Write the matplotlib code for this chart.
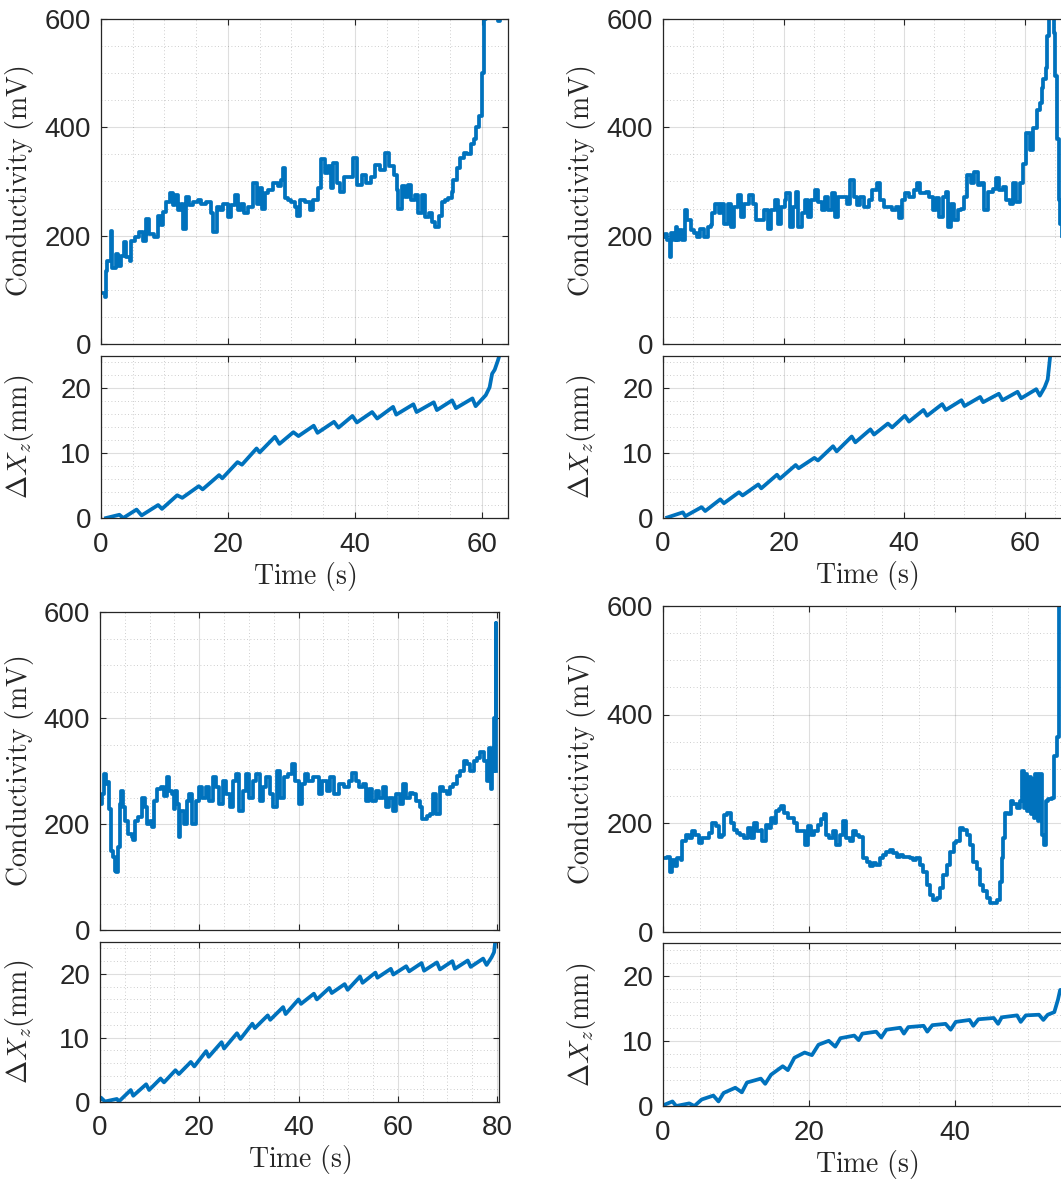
import matplotlib
matplotlib.use('Agg')
import matplotlib.pyplot as plt
from matplotlib.ticker import MultipleLocator

plt.rcParams['font.family'] = ['Liberation Sans', 'DejaVu Sans']
plt.rcParams['mathtext.fontset'] = 'cm'

# ---- panel (a): conductivity and displacement ----
t_cond_a = [0, 0.6, 0.7, 0.8, 1.0, 1.6, 1.8, 2.4, 2.7, 3.2,
            3.7, 4.0, 4.5, 4.7, 5.3, 6.0, 6.6, 7.1, 7.6, 8.4,
            8.9, 9.5, 9.7, 10.3, 10.8, 11.3, 11.6, 12.1, 12.6, 12.9,
            13.4, 13.9, 14.5, 15.3, 15.8, 16.6, 17.4, 17.6, 18.2, 18.7,
            19.2, 20.0, 20.5, 21.1, 21.6, 22.1, 22.6, 23.2, 23.9, 24.5,
            25.0, 25.3, 25.8, 26.3, 27.1, 27.9, 28.4, 28.7, 29.0, 29.5,
            30.0, 30.5, 30.8, 31.3, 32.1, 32.9, 33.4, 34.2, 34.7, 35.3,
            35.8, 36.3, 36.6, 37.1, 37.6, 38.2, 38.9, 39.7, 40.3, 41.1,
            41.8, 42.6, 43.2, 43.9, 44.7, 45.3, 46.1, 46.6, 46.8, 47.4,
            47.9, 48.4, 48.9, 49.5, 50.0, 50.5, 51.1, 51.6, 52.1, 52.6,
            53.2, 53.7, 54.2, 54.7, 55.3, 55.5, 56.1, 56.6, 57.1, 57.6,
            58.2, 58.7, 59.0, 59.5, 60.0, 60.3, 60.6, 62.2, 62.6, 62.9]
cond_a = [94, 94, 87, 134, 153, 209, 140, 166, 144, 163,
          188, 160, 153, 191, 197, 206, 191, 231, 203, 197,
          237, 219, 244, 262, 278, 256, 275, 247, 259, 212,
          272, 256, 262, 266, 259, 262, 241, 206, 253, 247,
          259, 234, 256, 275, 247, 259, 241, 253, 297, 259,
          288, 250, 278, 284, 297, 291, 303, 325, 269, 266,
          262, 253, 237, 266, 262, 247, 266, 288, 341, 316,
          328, 288, 334, 297, 281, 309, 309, 344, 294, 312,
          297, 309, 331, 322, 353, 328, 312, 284, 250, 291,
          272, 294, 266, 275, 241, 275, 234, 241, 225, 216,
          237, 262, 266, 269, 281, 303, 325, 344, 353, 350,
          369, 378, 400, 420, 500, 600, 700, 650, 597, 612]
t_dx_a = [0.8, 2.9, 3.5, 5.6, 6.4, 9.0, 9.6, 12.0, 12.8, 15.4,
          16.0, 18.6, 19.1, 21.5, 22.2, 24.5, 25.0, 27.4, 28.1, 30.3,
          31.1, 33.5, 34.1, 36.7, 37.4, 39.6, 40.3, 42.7, 43.5, 46.0,
          46.5, 49.2, 49.7, 52.4, 52.9, 55.3, 55.9, 58.5, 59.0, 60.6,
          61.2, 61.6, 62.0, 62.5, 62.9]
dx_a = [0, 0.5, 0, 1.3, 0.4, 2.0, 1.4, 3.5, 3.1, 4.9,
        4.4, 6.6, 6.1, 8.6, 8.2, 10.7, 10.1, 12.5, 11.4, 13.2,
        12.6, 14.2, 13.1, 14.8, 13.9, 15.7, 14.7, 16.3, 15.3, 17.1,
        15.9, 17.5, 16.3, 17.8, 16.6, 18.1, 16.9, 18.4, 17.2, 18.9,
        20.1, 22.2, 22.8, 24.2, 25.5]

# ---- panel (b) ----
t_cond_b = [0, 0.4, 0.7, 1.1, 1.3, 1.8, 2.1, 2.3, 2.6, 3.2,
            3.7, 4.0, 4.6, 5.1, 5.7, 6.2, 6.8, 7.4, 7.9, 8.2,
            8.7, 9.3, 9.6, 10.1, 10.7, 11.3, 11.8, 12.4, 12.9, 13.5,
            14.3, 14.9, 15.4, 16.3, 16.8, 17.4, 17.9, 18.5, 19.1, 19.6,
            20.2, 20.4, 21.0, 21.6, 22.1, 22.4, 23.0, 23.5, 24.1, 24.6,
            25.2, 25.7, 26.3, 26.9, 27.4, 28.0, 28.5, 29.1, 29.9, 30.5,
            31.0, 31.6, 32.1, 32.7, 33.3, 34.1, 34.7, 35.5, 36.0, 36.6,
            37.4, 38.0, 38.6, 39.1, 39.7, 40.2, 40.8, 41.6, 42.2, 42.7,
            43.6, 44.1, 44.7, 45.2, 45.8, 46.4, 46.9, 47.2, 47.7, 48.3,
            48.9, 49.4, 50.0, 50.5, 51.1, 51.6, 52.2, 52.8, 53.3, 53.9,
            54.7, 55.3, 55.8, 56.4, 56.9, 57.5, 58.1, 58.6, 59.2, 59.7,
            60.2, 60.8, 61.4, 62.0, 62.5, 62.8, 63.1, 63.5, 63.7, 64.1,
            64.5, 64.8, 65.0, 65.3, 65.6, 65.9, 66.1, 66.4]
cond_b = [198, 203, 192, 161, 204, 192, 216, 192, 210, 192,
          247, 229, 210, 204, 198, 213, 198, 216, 219, 241,
          259, 241, 259, 222, 259, 216, 253, 275, 235, 259,
          275, 259, 229, 229, 247, 213, 247, 266, 222, 253,
          266, 278, 216, 253, 281, 216, 241, 266, 235, 266,
          284, 263, 247, 272, 247, 278, 235, 272, 272, 259,
          303, 272, 256, 272, 253, 266, 284, 297, 266, 253,
          253, 247, 253, 232, 266, 278, 272, 284, 297, 278,
          281, 272, 247, 269, 235, 272, 281, 216, 259, 229,
          247, 250, 272, 312, 297, 318, 294, 297, 247, 281,
          287, 306, 284, 290, 266, 259, 297, 263, 297, 333,
          389, 359, 398, 432, 445, 472, 490, 509, 568, 620,
          640, 574, 494, 379, 266, 222, 200, 179]
t_dx_b = [0.7, 3.3, 3.7, 6.4, 7.0, 9.5, 10.1, 12.6, 13.2, 15.8,
          16.3, 18.9, 19.4, 22.0, 22.5, 25.1, 25.7, 28.2, 28.8, 31.3,
          31.9, 34.4, 35.0, 37.3, 38.0, 40.1, 40.8, 43.2, 43.8, 46.3,
          46.9, 49.5, 50.0, 52.6, 53.1, 55.7, 56.3, 58.8, 59.4, 61.9,
          62.5, 63.3, 63.8, 64.2, 64.4]
dx_b = [0, 0.8, 0.2, 1.6, 1.0, 2.8, 2.2, 3.9, 3.4, 5.1,
        4.5, 6.6, 6.0, 8.1, 7.6, 9.2, 8.8, 11.0, 10.2, 12.5,
        11.6, 13.6, 12.8, 14.5, 13.9, 15.7, 14.8, 16.6, 15.7, 17.5,
        16.6, 18.1, 17.2, 18.6, 17.8, 19.1, 18.1, 19.4, 18.4, 19.8,
        18.8, 20.1, 21.3, 24.8, 26]

# ---- panel (c) ----
t_cond_c = [0, 0.4, 0.8, 1.3, 1.5, 1.8, 2.2, 2.6, 3.0, 3.3, 3.7,
            4.0, 4.3, 4.7, 5.0, 5.7, 6.4, 6.7, 7.1, 7.7, 8.4,
            9.1, 9.4, 10.1, 10.5, 10.8, 11.5, 12.2, 12.8, 13.5, 13.9,
            14.5, 14.9, 15.2, 15.5, 15.9, 16.2, 16.9, 17.6, 17.9, 18.6,
            19.3, 20.0, 20.6, 21.3, 22.0, 22.7, 23.4, 24.0, 24.7, 25.4,
            26.1, 26.7, 27.4, 28.1, 28.8, 29.5, 30.1, 30.8, 31.5, 32.2,
            32.9, 33.5, 34.2, 34.9, 35.6, 36.3, 37.0, 37.9, 38.6, 39.3,
            40.0, 40.7, 41.3, 42.0, 43.0, 44.1, 44.7, 45.8, 46.4, 47.1,
            48.1, 49.2, 50.2, 50.8, 51.5, 52.2, 52.9, 53.6, 54.2, 54.9,
            55.6, 56.3, 57.0, 57.7, 58.3, 59.0, 59.7, 60.4, 61.0, 61.7,
            62.4, 63.1, 63.7, 64.4, 64.8, 65.8, 66.5, 67.1, 67.8, 68.5,
            69.2, 69.9, 70.5, 71.2, 71.9, 72.6, 73.3, 73.9, 74.6, 75.3,
            75.9, 76.6, 77.3, 78.0, 78.3, 78.7, 79.0, 79.3, 79.6, 79.7,
            79.8]
cond_c = [238, 257, 294, 275, 279, 228, 150, 137, 112, 109, 156,
          238, 263, 232, 206, 181, 175, 169, 206, 213, 250,
          232, 200, 206, 194, 244, 266, 269, 253, 288, 263,
          257, 228, 263, 238, 175, 225, 200, 244, 257, 200,
          244, 269, 250, 269, 244, 288, 269, 238, 282, 257,
          232, 282, 294, 225, 263, 294, 250, 282, 294, 244,
          269, 288, 257, 232, 300, 250, 288, 294, 313, 282,
          238, 275, 294, 282, 288, 257, 282, 263, 288, 257,
          275, 269, 282, 297, 282, 269, 275, 244, 266, 244,
          263, 250, 269, 232, 250, 225, 257, 238, 275, 250,
          259, 257, 244, 232, 209, 215, 219, 257, 219, 269,
          263, 257, 269, 275, 291, 300, 319, 313, 300, 319,
          325, 335, 319, 282, 343, 266, 300, 400, 400, 580,
          300]
t_dx_c = [0, 0.2, 1.0, 3.4, 3.8, 6.2, 6.7, 9.3, 9.9, 12.2,
          12.9, 15.2, 15.9, 18.3, 19.0, 21.4, 21.9, 24.5, 25.0, 27.6,
          28.3, 30.7, 31.2, 33.8, 34.3, 36.9, 37.4, 40.0, 40.5, 43.1,
          43.7, 46.2, 46.7, 49.3, 49.9, 52.4, 52.9, 55.5, 55.9, 58.6,
          59.1, 61.7, 62.3, 64.8, 65.3, 67.9, 68.5, 71.0, 71.5, 74.1,
          74.7, 77.2, 77.9, 78.9, 79.4, 79.7]
dx_c = [0.3, 0.6, 0, 0.4, 0, 1.8, 0.9, 2.7, 1.8, 3.6,
        3.0, 4.9, 4.3, 6.2, 5.5, 7.9, 7.0, 9.3, 8.3, 10.7,
        9.8, 12.2, 11.5, 13.5, 12.8, 14.8, 13.7, 16.0, 15.3, 16.9,
        16.0, 17.8, 17.0, 18.4, 17.5, 19.6, 18.6, 20.2, 19.4, 20.8,
        19.9, 21.2, 20.4, 21.7, 20.5, 21.8, 20.7, 22.0, 20.8, 22.1,
        21.1, 22.4, 21.4, 22.6, 23.4, 25.5]

# ---- panel (d) ----
t_cond_d = [0.2, 0.6, 1.0, 1.2, 1.7, 1.9, 2.4, 2.6, 3.1, 3.5,
            4.0, 4.4, 4.9, 5.4, 5.8, 6.3, 6.7, 7.2, 7.7, 8.1,
            8.3, 8.8, 9.3, 9.7, 10.2, 10.6, 11.1, 11.6, 12.0, 12.5,
            12.9, 13.4, 13.6, 14.1, 14.5, 14.8, 15.2, 15.5, 15.9, 16.1,
            16.6, 17.1, 17.5, 18.0, 18.4, 18.9, 19.4, 19.8, 20.3, 20.7,
            21.2, 21.7, 22.1, 22.3, 22.8, 23.3, 23.7, 24.2, 24.6, 25.1,
            25.6, 26.0, 26.5, 26.9, 27.4, 27.9, 28.3, 28.8, 29.2, 29.7,
            30.1, 30.6, 31.1, 31.5, 32.0, 32.4, 32.9, 33.3, 33.8, 34.3,
            34.7, 35.2, 35.6, 36.1, 36.6, 37.0, 37.5, 37.9, 38.4, 38.9,
            39.3, 39.8, 40.2, 40.7, 41.1, 41.6, 42.1, 42.5, 43.0, 43.4,
            43.9, 44.4, 44.8, 45.3, 45.7, 46.2, 46.4, 46.6, 46.9, 47.3,
            47.6, 48.0, 48.5, 48.9, 49.2, 49.4, 49.6, 49.9, 50.1, 50.4,
            50.6, 50.8, 51.0, 51.3, 51.5, 51.7, 51.9, 52.2, 52.4, 52.8,
            53.3, 53.6, 54.0, 54.3, 54.4, 55.0]
cond_d = [135, 138, 110, 132, 120, 135, 132, 166, 178, 172,
          185, 178, 163, 172, 172, 181, 200, 194, 175, 178,
          215, 218, 200, 188, 181, 178, 172, 191, 172, 200,
          185, 188, 166, 197, 191, 210, 200, 222, 225, 231,
          218, 210, 210, 200, 185, 185, 160, 194, 178, 185,
          197, 207, 216, 178, 172, 185, 160, 178, 203, 172,
          166, 185, 178, 175, 135, 129, 120, 126, 123, 135,
          141, 147, 150, 144, 138, 141, 138, 138, 135, 132,
          135, 123, 110, 86, 67, 58, 61, 80, 105, 123,
          147, 163, 166, 191, 188, 178, 160, 129, 116, 86,
          74, 61, 52, 52, 58, 92, 135, 172, 218, 216,
          241, 235, 228, 241, 296, 228, 290, 222, 284, 216,
          281, 210, 290, 203, 216, 290, 178, 160, 241, 244,
          247, 324, 358, 700, 700, 700]
t_dx_d = [0, 1.3, 1.8, 3.6, 4.3, 5.3, 6.9, 7.6, 8.3, 9.9,
          10.8, 11.5, 13.4, 14.0, 14.8, 16.4, 17.1, 18.0, 19.4, 20.4,
          21.3, 22.7, 23.6, 24.3, 26.2, 26.8, 27.3, 29.2, 29.9, 30.6,
          32.5, 33.0, 33.6, 35.7, 36.2, 36.9, 38.7, 39.4, 40.1, 42.0,
          42.5, 43.2, 45.3, 45.9, 46.4, 48.5, 49.0, 49.7, 51.5, 52.1,
          52.7, 53.6, 54.1, 54.4, 54.7]
dx_d = [0.1, 0.7, 0, 0.4, 0, 1.0, 1.6, 0.7, 2.0, 2.8,
        2.1, 3.6, 4.2, 3.4, 4.8, 6.1, 5.5, 7.4, 8.2, 7.8,
        9.4, 10.0, 9.1, 10.4, 10.8, 10.1, 11.1, 11.4, 10.5, 11.7,
        12.0, 11.1, 12.1, 12.3, 11.4, 12.4, 12.6, 11.7, 12.9, 13.2,
        12.3, 13.3, 13.5, 12.6, 13.6, 13.9, 12.9, 13.9, 14.0, 13.2,
        14.0, 14.4, 16.3, 17.8, 17.8]

# time axis limits of each panel
xmax_list = [64.1, 67.5, 80.4, 55.75]

W, H = 1061, 1179
dark = (0.15, 0.15, 0.15)
blue = '#0072BD'

fig = plt.figure(figsize=(W / 100, H / 100), dpi=100)


def box(l, r, top, bot):
    # pixel box -> figure fraction
    return [l / W, 1 - bot / H, (r - l) / W, (bot - top) / H]


def style(ax, xmax, ymax, ymajor, yminor):
    ax.set_xlim(0, xmax)
    ax.set_ylim(0, ymax)
    ax.xaxis.set_major_locator(MultipleLocator(20))
    ax.xaxis.set_minor_locator(MultipleLocator(5))
    ax.yaxis.set_major_locator(MultipleLocator(ymajor))
    ax.yaxis.set_minor_locator(MultipleLocator(yminor))
    ax.grid(which='major', color=dark, alpha=0.15, lw=0.8)
    ax.grid(which='minor', color=dark, alpha=0.3, lw=0.6, linestyle=(0, (1, 3)))
    ax.set_axisbelow(True)
    ax.tick_params(which='major', direction='in', length=4.5, width=0.8,
                   top=True, right=True, labelsize=20, colors=dark, pad=7)
    ax.tick_params(which='minor', length=0)
    for s in ax.spines.values():
        s.set_color(dark)
        s.set_linewidth(0.9)


# pixel layout: left, right, cond top, cond bottom, dx top, dx bottom
layout = [(101, 508, 19, 344, 355.5, 518),
          (663, 1070, 19, 344, 355.5, 517.5),
          (100, 499, 612, 930, 942, 1101.5),
          (663, 1070, 606, 931.5, 943, 1106)]
cond_series = [(t_cond_a, cond_a), (t_cond_b, cond_b), (t_cond_c, cond_c), (t_cond_d, cond_d)]
dx_series = [(t_dx_a, dx_a), (t_dx_b, dx_b), (t_dx_c, dx_c), (t_dx_d, dx_d)]

for i in range(4):
    l, r, ct, cb, dt, db = layout[i]
    xmax = xmax_list[i]

    # Conductivity
    ax1 = fig.add_axes(box(l, r, ct, cb))
    tc, vc = cond_series[i]
    ax1.plot(tc, vc, color=blue, lw=2.7, drawstyle='steps-post')
    style(ax1, xmax, 600, 200, 50)
    ax1.tick_params(labelbottom=False)
    ax1.set_ylabel(r'$\mathrm{Conductivity\ (mV)}$', fontsize=20, color=dark)
    ax1.yaxis.set_label_coords(-0.16, 0.5)

    # Displacement
    ax2 = fig.add_axes(box(l, r, dt, db))
    td, vd = dx_series[i]
    ax2.plot(td, vd, color=blue, lw=2.7)
    style(ax2, xmax, 25, 10, 2)
    ax2.tick_params(axis='x', pad=10)
    ax2.set_ylabel(r'$\Delta X_z(\mathrm{mm})$', fontsize=20, color=dark)
    ax2.yaxis.set_label_coords(-0.16, 0.5)
    ax2.set_xlabel(r'$\mathrm{Time\ (s)}$', fontsize=20, color=dark)
    ax2.xaxis.set_label_coords(0.5, -42 / (db - dt))
    ax2.xaxis.label.set_va('top')

fig.savefig('out.png', dpi=100)
